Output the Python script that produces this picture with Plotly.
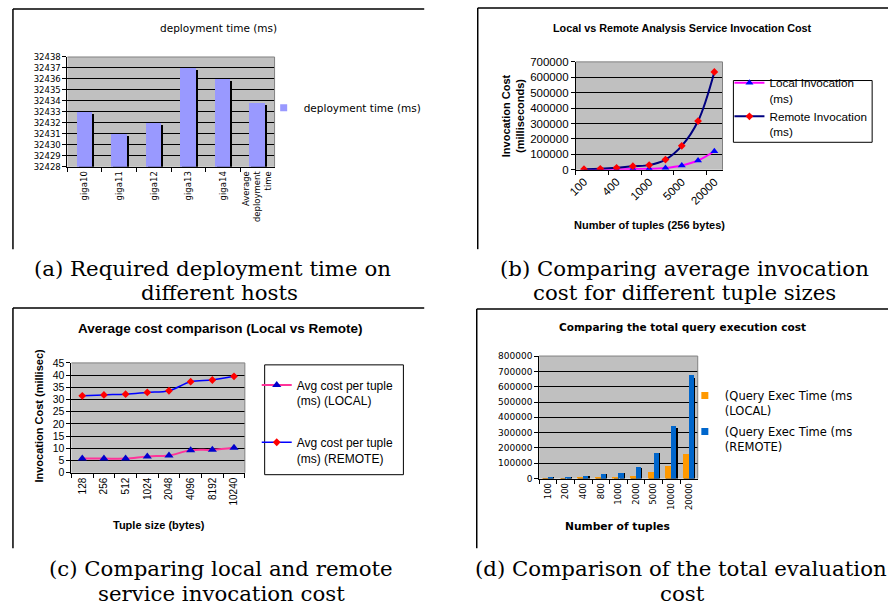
import plotly.graph_objects as go

W, H = 888, 616


def px(x):
    return x / W


def py(y):
    return 1 - y / H


# ---------------- data ----------------
# (a) deployment time
hosts = ["giga10", "giga11", "giga12", "giga13", "giga14", "Average<br>deployment<br>time"]
deploy_ms = [32433, 32431, 32432, 32437, 32436, 32433.8]

# (b) local vs remote invocation cost
tuples_b = ["100", "200", "400", "800", "1000", "2000", "5000", "10000", "20000"]
local_b = [600, 1200, 2400, 4800, 6000, 12000, 28000, 60000, 120000]
remote_b = [3200, 6300, 12700, 23000, 30000, 66000, 155000, 316000, 635000]
tick_labels_b = ["100", "400", "1000", "5000", "20000"]

# (c) average cost per tuple
sizes_c = ["128", "256", "512", "1024", "2048", "4096", "8192", "10240"]
local_c = [5.8, 5.8, 5.8, 6.7, 7.1, 9.2, 9.4, 10.2]
remote_c = [31.5, 31.9, 32.2, 32.9, 33.6, 37.3, 38.0, 39.5]

# (d) total query execution cost
tuples_d = ["100", "200", "400", "800", "1000", "2000", "5000", "10000", "20000"]
local_d = [1000, 2000, 4500, 9000, 11000, 19000, 45000, 82000, 163000]
remote_d = [4000, 7000, 17000, 30000, 36000, 73000, 170000, 343000, 678000]

ARIAL = "Liberation Sans, Arial, sans-serif"
VERD = "DejaVu Sans, Verdana, sans-serif"
SERIF = "DejaVu Serif, serif"

fig = go.Figure()

# ---------------- panel (a) ----------------
fig.add_trace(go.Bar(x=hosts, y=[v - 0.15 for v in deploy_ms], marker=dict(color="black", line_width=0),
                     width=0.45, offset=-0.16, showlegend=False, hoverinfo="skip", xaxis="x", yaxis="y"))
fig.add_trace(go.Bar(x=hosts, y=deploy_ms, marker=dict(color="#9999FF", line_width=0),
                     width=0.45, offset=-0.22, name="deployment time (ms)", xaxis="x", yaxis="y",
                     showlegend=False))
fig.add_trace(go.Scatter(x=[None], y=[None], mode="markers", name="deployment time (ms)",
                         marker=dict(symbol="square", color="#9999FF", size=7),
                         xaxis="x", yaxis="y", legend="legend"))

# ---------------- panel (b) ----------------
fig.add_trace(go.Scatter(x=tuples_b, y=local_b, mode="lines+markers", name="Local Invocation<br>(ms)",
                         line=dict(color="#FF00FF", width=2, shape="spline"),
                         marker=dict(symbol="triangle-up", color="#0000FF", size=7),
                         xaxis="x2", yaxis="y2", legend="legend2"))
fig.add_trace(go.Scatter(x=tuples_b, y=remote_b, mode="lines+markers", name="Remote Invocation<br>(ms)",
                         line=dict(color="#000080", width=2, shape="spline"),
                         marker=dict(symbol="diamond", color="#FF0000", size=6),
                         xaxis="x2", yaxis="y2", legend="legend2"))

# ---------------- panel (c) ----------------
fig.add_trace(go.Scatter(x=sizes_c, y=local_c, mode="lines+markers", name="Avg cost per tuple<br>(ms) (LOCAL)",
                         line=dict(color="#FF3399", width=2, shape="spline"),
                         marker=dict(symbol="triangle-up", color="#0000CC", size=8),
                         legendgroup="c1", xaxis="x3", yaxis="y3", legend="legend3"))
fig.add_trace(go.Scatter(x=sizes_c, y=remote_c, mode="lines+markers", name="Avg cost per tuple<br>(ms) (REMOTE)",
                         line=dict(color="#0000FF", width=1.5, shape="spline"),
                         marker=dict(symbol="diamond", color="#FF0000", size=6),
                         legendgroup="c2", xaxis="x3", yaxis="y3", legend="legend3"))

# ---------------- panel (d) ----------------
fig.add_trace(go.Bar(x=tuples_d, y=[v * 0.97 for v in local_d], marker=dict(color="black", line_width=0),
                     width=0.33, offset=-0.27, showlegend=False, hoverinfo="skip", xaxis="x4", yaxis="y4"))
fig.add_trace(go.Bar(x=tuples_d, y=local_d, marker=dict(color="#FF9900", line_width=0),
                     width=0.33, offset=-0.33, name="(Query Exec Time (ms<br>(LOCAL)",
                     showlegend=False, xaxis="x4", yaxis="y4"))
fig.add_trace(go.Bar(x=tuples_d, y=[v * 0.97 for v in remote_d], marker=dict(color="black", line_width=0),
                     width=0.3, offset=0.07, showlegend=False, hoverinfo="skip", xaxis="x4", yaxis="y4"))
fig.add_trace(go.Bar(x=tuples_d, y=remote_d, marker=dict(color="#0066CC", line_width=0),
                     width=0.3, offset=0.0, name="(Query Exec Time (ms<br>(REMOTE)",
                     showlegend=False, xaxis="x4", yaxis="y4"))
fig.add_trace(go.Scatter(x=[None], y=[None], mode="markers", name="(Query Exec Time (ms<br>(LOCAL)",
                         marker=dict(symbol="square", color="#FF9900", size=7),
                         legendgroup="d1", xaxis="x4", yaxis="y4", legend="legend4"))
fig.add_trace(go.Scatter(x=[None], y=[None], mode="markers", name="(Query Exec Time (ms<br>(REMOTE)",
                         marker=dict(symbol="square", color="#0066CC", size=7),
                         legendgroup="d2", xaxis="x4", yaxis="y4", legend="legend4"))

# ---------------- axes ----------------
def yax(dom, rng, dtick, font, size, anchor):
    return dict(domain=dom, range=rng, dtick=dtick, tickformat="d", showgrid=True, gridcolor="black",
                gridwidth=1, showline=True, linecolor="black", linewidth=1, ticks="outside", ticklen=4,
                tickcolor="black", tickfont=dict(family=font, size=size, color="black"), zeroline=False,
                anchor=anchor, fixedrange=True)


def xax(dom, font, size, angle, anchor, **kw):
    d = dict(domain=dom, type="category", showgrid=False, showline=True, linecolor="black", linewidth=1,
             ticks="outside", ticklen=4, tickcolor="black", tickangle=angle, tickson="boundaries",
             tickfont=dict(family=font, size=size, color="black"), anchor=anchor, fixedrange=True)
    d.update(kw)
    return d


layout = dict(
    width=W, height=H, margin=dict(l=0, r=0, t=0, b=0),
    paper_bgcolor="white", plot_bgcolor="#C0C0C0", barmode="overlay", bargap=0,
    xaxis=xax([px(60), px(269)], VERD, 8.5, -90, "y", range=[-0.5, 5.5]),
    yaxis=yax([py(164), py(52)], [32428, 32438], 1, VERD, 8.5, "x"),
    xaxis2=xax([px(573), px(721)], ARIAL, 11.5, -45, "y2", range=[-0.5, 8.5],
               tickmode="array", tickvals=tick_labels_b, ticktext=tick_labels_b),
    yaxis2=yax([py(167), py(57)], [0, 700000], 100000, ARIAL, 11.5, "x2"),
    xaxis3=xax([px(64), px(239)], ARIAL, 10, -90, "y3", range=[-0.5, 7.5]),
    yaxis3=yax([py(476), py(364)], [0, 45], 5, ARIAL, 10.5, "x3"),
    xaxis4=xax([px(536), px(696)], VERD, 8.5, -90, "y4", range=[-0.5, 8.5]),
    yaxis4=yax([py(482), py(357)], [0, 800000], 100000, VERD, 9, "x4"),
    legend=dict(x=px(258), y=py(89), xanchor="left", yanchor="top", bgcolor="rgba(0,0,0,0)",
                font=dict(family=VERD, size=10.5, color="black")),
    legend2=dict(x=px(728), y=py(64), xanchor="left", yanchor="top", bgcolor="rgba(0,0,0,0)", valign="top",
                 font=dict(family=ARIAL, size=11.7, color="black")),
    legend3=dict(x=px(251), y=py(372), xanchor="left", yanchor="top", bgcolor="rgba(0,0,0,0)", valign="top",
                 tracegroupgap=23, font=dict(family=ARIAL, size=12, color="black")),
    legend4=dict(x=px(683), y=py(383), xanchor="left", yanchor="top", bgcolor="rgba(0,0,0,0)", valign="top",
                 tracegroupgap=3, font=dict(family=VERD, size=11.5, color="black")),
)
fig.update_layout(**layout)

# ---------------- shapes: panel frames, plot borders, legend boxes ----------------
shapes = []


def line(x0, y0, x1, y1, color="black", width=1.5):
    shapes.append(dict(type="line", xref="paper", yref="paper", x0=px(x0), y0=py(y0), x1=px(x1), y1=py(y1),
                       line=dict(color=color, width=width)))


def rect(x0, y0, x1, y1, color="black", width=1):
    shapes.append(dict(type="rect", xref="paper", yref="paper", x0=px(x0), y0=py(y0), x1=px(x1), y1=py(y1),
                       line=dict(color=color, width=width), fillcolor="rgba(0,0,0,0)"))


# panel frames
line(5, 3, 420, 3); line(5, 3, 5, 248)
line(474, 2, 888, 2); line(474, 2, 474, 248)
line(5, 308, 420, 308); line(5, 308, 5, 553)
line(473, 309, 888, 309); line(473, 309, 473, 553)
# plot area top/right borders (gray)
for (x0, y0, x1, y1) in [(60, 52, 269, 164), (573, 57, 721, 167), (64, 364, 239, 476), (536, 357, 696, 482)]:
    line(x0, y0, x1, y0, "#808080", 1); line(x1, y0, x1, y1, "#808080", 1)
# legend boxes
rect(732, 76, 872, 139)
rect(259, 366, 399, 478)
fig.update_layout(shapes=shapes)

# ---------------- annotations: titles, axis titles, captions ----------------
ann = []


def text(x, y, s, font, size, bold=False, angle=0):
    ann.append(dict(xref="paper", yref="paper", x=px(x), y=py(y), text=("<b>%s</b>" % s) if bold else s,
                    showarrow=False, xanchor="center", yanchor="middle", textangle=angle,
                    font=dict(family=font, size=size, color="black")))


text(212, 22, "deployment time (ms)", VERD, 10.5)
text(681, 22, "Local vs Remote Analysis Service Invocation Cost", ARIAL, 10.8, True)
text(509, 112, "Invocation Cost<br>(milliseconds)", ARIAL, 11, True, -90)
text(647, 223, "Number of tuples (256 bytes)", ARIAL, 11, True)
text(214, 329, "Average cost comparison (Local vs Remote)", ARIAL, 13.5, True)
text(31, 418, "Invocation Cost (millisec)", ARIAL, 11, True, -90)
text(152, 529, "Tuple size (bytes)", ARIAL, 11, True)
text(681, 327, "Comparing the total query execution cost", VERD, 10.5, True)
text(615, 531, "Number of tuples", VERD, 10.7, True)

captions = [
    (206, 268, "(a) Required deployment time on"), (213, 292, "different hosts"),
    (683, 268, "(b) Comparing average invocation"), (683, 292, "cost for different tuple sizes"),
    (215, 574, "(c) Comparing local and remote"), (215, 599, "service invocation cost"),
    (679, 574, "(d) Comparison of the total evaluation"), (681, 599, "cost"),
]
for (x, y, s) in captions:
    text(x, y, s, SERIF, 21.3)
fig.update_layout(annotations=ann)

fig.write_html("out.html", config={"displayModeBar": False},
               post_script="document.body.style.margin='0px';")
